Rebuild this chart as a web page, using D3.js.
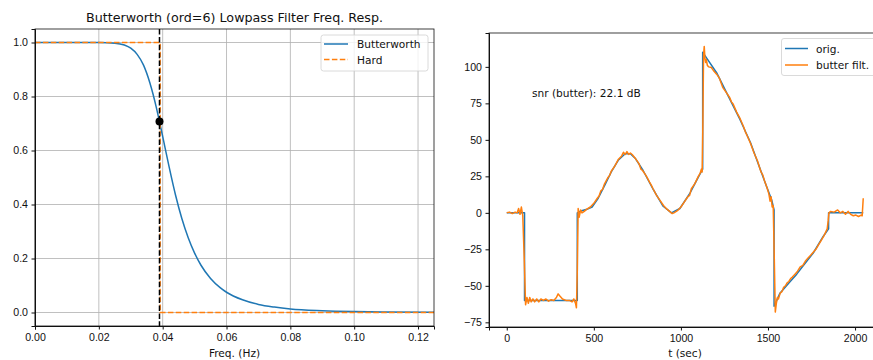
<!DOCTYPE html>
<html>
<head>
<meta charset="utf-8">
<script src="https://cdn.jsdelivr.net/npm/d3@7"></script>
<style>
  body { margin: 0; background: #fff; }
  svg { font-family: "DejaVu Sans", sans-serif; }
  .tick text { font-size: 10.6px; fill: #111; }
  .domain { stroke: #111; }
  .tick line { stroke: #111; }
</style>
</head>
<body>
<div id="chart"></div>
<script>
// Left: filter response
var bwFreq = [0, 0.01, 0.02, 0.025, 0.028, 0.03, 0.032, 0.034, 0.036, 0.038, 0.039, 0.04, 0.042, 0.044, 0.046, 0.048, 0.05, 0.052, 0.055, 0.058, 0.06, 0.065, 0.07, 0.075, 0.08, 0.09, 0.1, 0.11, 0.125];
var bwMag = [1, 1, 0.9998, 0.9976, 0.9908, 0.979, 0.956, 0.916, 0.850, 0.760, 0.707, 0.652, 0.540, 0.436, 0.348, 0.277, 0.220, 0.175, 0.126, 0.092, 0.075, 0.047, 0.030, 0.020, 0.013, 0.0066, 0.0035, 0.002, 0.0009];
var hardFreq = [0, 0.0392, 0.0392, 0.125];
var hardMag = [1, 1, 0, 0];
var cutoff = 0.039;
var cutoffMag = 0.707;
var freqTicks = [0, 0.02, 0.04, 0.06, 0.08, 0.10, 0.12];
var magTicks = [0, 0.2, 0.4, 0.6, 0.8, 1.0];

// Right: signals
var origT = [0, 102, 102, 405, 405, 430, 460, 490, 525, 563, 600, 640, 680, 710, 740, 783, 841, 898, 946, 994, 1052, 1100, 1125, 1125, 1148, 1205, 1272, 1339, 1358, 1400, 1435, 1492, 1521, 1535, 1535, 1569, 1620, 1665, 1710, 1760, 1818, 1848, 1848, 2047];
var origV = [0, 0, -60, -60, 0, 1.5, 2.5, 4, 10, 19, 28, 36, 40.5, 40.5, 37, 29, 16, 4.5, 0, 3, 13.5, 24.5, 30, 110, 106, 96, 80, 64, 59, 48, 36.5, 18, 9, 2, -64, -55, -48, -42, -35, -27.5, -16, -11, 0, 0];
var filtT = [0, 16, 32, 48, 60, 68, 76, 84, 92, 100, 108, 116, 124, 132, 140, 150, 160, 172, 184, 196, 210, 225, 240, 255, 270, 285, 295, 305, 320, 340, 360, 375, 385, 395, 400, 405, 410, 416, 424, 432, 445, 460, 480, 500, 520, 530, 540, 550, 560, 580, 590, 600, 620, 640, 660, 670, 680, 690, 700, 710, 720, 740, 760, 770, 780, 800, 820, 830, 840, 860, 880, 900, 920, 940, 950, 960, 980, 1000, 1020, 1040, 1050, 1060, 1080, 1100, 1110, 1118, 1122, 1126, 1130, 1134, 1138, 1142, 1146, 1152, 1160, 1175, 1190, 1205, 1220, 1240, 1260, 1280, 1290, 1300, 1320, 1340, 1360, 1370, 1380, 1400, 1420, 1440, 1460, 1470, 1480, 1495, 1505, 1512, 1518, 1524, 1530, 1536, 1542, 1548, 1554, 1560, 1570, 1580, 1590, 1600, 1610, 1620, 1630, 1640, 1655, 1670, 1685, 1700, 1715, 1730, 1745, 1760, 1775, 1790, 1805, 1820, 1832, 1840, 1846, 1850, 1860, 1880, 1900, 1915, 1930, 1945, 1960, 1975, 1990, 2005, 2020, 2035, 2041, 2047];
var filtV = [0, 0.5, -0.5, 0.5, 0, 3, -1, 4, -2, -30, -63, -58, -62, -58, -61, -59, -61, -59, -61, -59, -60, -59, -60.5, -59.5, -60, -58, -55.5, -57, -59, -60, -60, -61, -59, -62, -65, -40, 3, -3, 2, 0, 1, 2.5, 4, 6.5, 10, 11.5, 15, 16, 19.5, 24, 25.5, 28.5, 32, 36.5, 39, 41.5, 40, 42, 40, 41, 40, 37, 33.5, 30, 29, 25.5, 21, 19, 16.5, 12, 8.5, 5, 2.5, 0.5, -0.5, 0, 1.5, 4, 7.5, 11, 12, 16.5, 20, 25, 27, 30, 28, 60, 108, 114, 106, 103, 105, 101, 100, 99.5, 97, 95, 92.5, 86, 82.5, 79, 76, 74.5, 69, 64.5, 59, 55.5, 53, 47.5, 41, 35.5, 28, 26, 22, 17, 13, 8, 11, 4, 5, -30, -68, -62, -58, -59, -55, -54, -51, -50, -48, -47, -45, -44, -42, -40, -37, -36, -33, -31, -29, -27, -25, -22, -19, -16, -13, -11, -5, 0, 1, 0.5, 2, 0, 1, -1, 1, -1, -2, -1.5, -2.5, -1.5, -2, 10];
var tTicks = [0, 500, 1000, 1500, 2000];
var vTicks = [-75, -50, -25, 0, 25, 50, 75, 100];

var blue = "#1f77b4";
var orange = "#ff7f0e";
var ink = "#111";

var svgWidth = 873;
var svgHeight = 360;

var svg = d3.select("#chart")
    .append("svg")
    .attr("width", svgWidth)
    .attr("height", svgHeight);

// ---------- left panel ----------
var left = {x0: 35, x1: 434, y0: 29, y1: 326};

var xFreq = d3.scaleLinear().domain([0, 0.125]).range([left.x0, left.x1]);
var yMag = d3.scaleLinear().domain([-0.05, 1.05]).range([left.y1, left.y0]);

var g1 = svg.append("g");

// grid
g1.selectAll(".vgrid").data(freqTicks).enter().append("line")
    .attr("x1", d => xFreq(d)).attr("x2", d => xFreq(d))
    .attr("y1", left.y0).attr("y2", left.y1)
    .attr("stroke", "#b0b0b0").attr("stroke-width", 0.8);
g1.selectAll(".hgrid").data(magTicks).enter().append("line")
    .attr("y1", d => yMag(d)).attr("y2", d => yMag(d))
    .attr("x1", left.x0).attr("x2", left.x1)
    .attr("stroke", "#b0b0b0").attr("stroke-width", 0.8);

var bwData = bwFreq.map((f, i) => [f, bwMag[i]]);
var hardData = hardFreq.map((f, i) => [f, hardMag[i]]);
var line1 = d3.line().x(d => xFreq(d[0])).y(d => yMag(d[1])).curve(d3.curveMonotoneX);
var line1s = d3.line().x(d => xFreq(d[0])).y(d => yMag(d[1]));

g1.append("path").datum(bwData)
    .attr("d", line1).attr("fill", "none")
    .attr("stroke", blue).attr("stroke-width", 1.5);
g1.append("path").datum(hardData)
    .attr("d", line1s).attr("fill", "none")
    .attr("stroke", orange).attr("stroke-width", 1.5)
    .attr("stroke-dasharray", "5.5,2.4");
g1.append("line")
    .attr("x1", xFreq(cutoff)).attr("x2", xFreq(cutoff))
    .attr("y1", left.y0).attr("y2", left.y1)
    .attr("stroke", "#000").attr("stroke-width", 1.5)
    .attr("stroke-dasharray", "5.5,2.4");
g1.append("circle")
    .attr("cx", xFreq(cutoff)).attr("cy", yMag(cutoffMag))
    .attr("r", 4).attr("fill", "#000");

g1.append("g")
    .attr("transform", `translate(0, ${left.y1})`)
    .call(d3.axisBottom(xFreq).tickValues(freqTicks).tickFormat(d3.format(".2f")).tickSizeOuter(0).tickSize(3.5).tickPadding(3.5));
g1.append("g")
    .attr("transform", `translate(${left.x0}, 0)`)
    .call(d3.axisLeft(yMag).tickValues(magTicks).tickFormat(d3.format(".1f")).tickSizeOuter(0).tickSize(3.5).tickPadding(3.5));
g1.append("rect")
    .attr("x", left.x0).attr("y", left.y0)
    .attr("width", left.x1 - left.x0).attr("height", left.y1 - left.y0)
    .attr("fill", "none").attr("stroke", ink).attr("stroke-width", 0.8);

g1.append("text")
    .attr("x", (left.x0 + left.x1) / 2).attr("y", 22)
    .attr("text-anchor", "middle").style("font-size", "12.7px").attr("fill", ink)
    .text("Butterworth (ord=6) Lowpass Filter Freq. Resp.");
g1.append("text")
    .attr("x", (left.x0 + left.x1) / 2).attr("y", 357)
    .attr("text-anchor", "middle").style("font-size", "10.6px").attr("fill", ink)
    .text("Freq. (Hz)");

// legend left
var lg1 = g1.append("g");
lg1.append("rect")
    .attr("x", 321).attr("y", 35).attr("width", 107).attr("height", 36).attr("rx", 2.5)
    .attr("fill", "#fff").attr("fill-opacity", 0.8).attr("stroke", "#d0d0d0").attr("stroke-width", 0.8);
lg1.append("line").attr("x1", 324).attr("x2", 348).attr("y1", 44).attr("y2", 44)
    .attr("stroke", blue).attr("stroke-width", 1.5);
lg1.append("line").attr("x1", 324).attr("x2", 348).attr("y1", 59.5).attr("y2", 59.5)
    .attr("stroke", orange).attr("stroke-width", 1.5).attr("stroke-dasharray", "5.5,2.4");
lg1.append("text").attr("x", 357).attr("y", 48).style("font-size", "10.6px").attr("fill", ink).text("Butterworth");
lg1.append("text").attr("x", 357).attr("y", 63.5).style("font-size", "10.6px").attr("fill", ink).text("Hard");

// ---------- right panel ----------
var right = {x0: 489, x1: 881, y0: 33, y1: 327};

var xT = d3.scaleLinear().domain([-102, 2149]).range([right.x0, right.x1]);
var yV = d3.scaleLinear().domain([-78.2, 123.2]).range([right.y1, right.y0]);

var g2 = svg.append("g");
g2.append("clipPath").attr("id", "clip2").append("rect")
    .attr("x", right.x0).attr("y", right.y0)
    .attr("width", right.x1 - right.x0).attr("height", right.y1 - right.y0);

var line2 = d3.line().x(d => xT(d[0])).y(d => yV(d[1]));
var origData = origT.map((t, i) => [t, origV[i]]);
var filtData = filtT.map((t, i) => [t, filtV[i]]);

g2.append("path").datum(origData)
    .attr("clip-path", "url(#clip2)")
    .attr("d", line2).attr("fill", "none")
    .attr("stroke", blue).attr("stroke-width", 1.5).attr("stroke-linejoin", "round");
g2.append("path").datum(filtData)
    .attr("clip-path", "url(#clip2)")
    .attr("d", line2).attr("fill", "none")
    .attr("stroke", orange).attr("stroke-width", 1.5).attr("stroke-linejoin", "round");

var minusFmt = d => (d < 0 ? "\u2212" + Math.abs(d) : "" + d);
g2.append("g")
    .attr("transform", `translate(0, ${right.y1})`)
    .call(d3.axisBottom(xT).tickValues(tTicks).tickFormat(d => d).tickSizeOuter(0).tickSize(3.5).tickPadding(3.5));
g2.append("g")
    .attr("transform", `translate(${right.x0}, 0)`)
    .call(d3.axisLeft(yV).tickValues(vTicks).tickFormat(minusFmt).tickSizeOuter(0).tickSize(3.5).tickPadding(3.5));
g2.append("rect")
    .attr("x", right.x0).attr("y", right.y0)
    .attr("width", right.x1 - right.x0).attr("height", right.y1 - right.y0)
    .attr("fill", "none").attr("stroke", ink).attr("stroke-width", 0.8);

g2.append("text")
    .attr("x", 532).attr("y", 97)
    .style("font-size", "10.6px").attr("fill", ink)
    .text("snr (butter): 22.1 dB");
g2.append("text")
    .attr("x", 685).attr("y", 357)
    .attr("text-anchor", "middle").style("font-size", "10.6px").attr("fill", ink)
    .text("t (sec)");

// legend right
var lg2 = g2.append("g");
lg2.append("rect")
    .attr("x", 781.5).attr("y", 38.5).attr("width", 95).attr("height", 37).attr("rx", 2.5)
    .attr("fill", "#fff").attr("fill-opacity", 0.8).attr("stroke", "#d0d0d0").attr("stroke-width", 0.8);
lg2.append("line").attr("x1", 785).attr("x2", 808).attr("y1", 48.5).attr("y2", 48.5)
    .attr("stroke", blue).attr("stroke-width", 1.5);
lg2.append("line").attr("x1", 785).attr("x2", 808).attr("y1", 65).attr("y2", 65)
    .attr("stroke", orange).attr("stroke-width", 1.5);
lg2.append("text").attr("x", 816).attr("y", 52.5).style("font-size", "10.6px").attr("fill", ink).text("orig.");
lg2.append("text").attr("x", 816).attr("y", 69).style("font-size", "10.6px").attr("fill", ink).text("butter filt.");
</script>
</body>
</html>
